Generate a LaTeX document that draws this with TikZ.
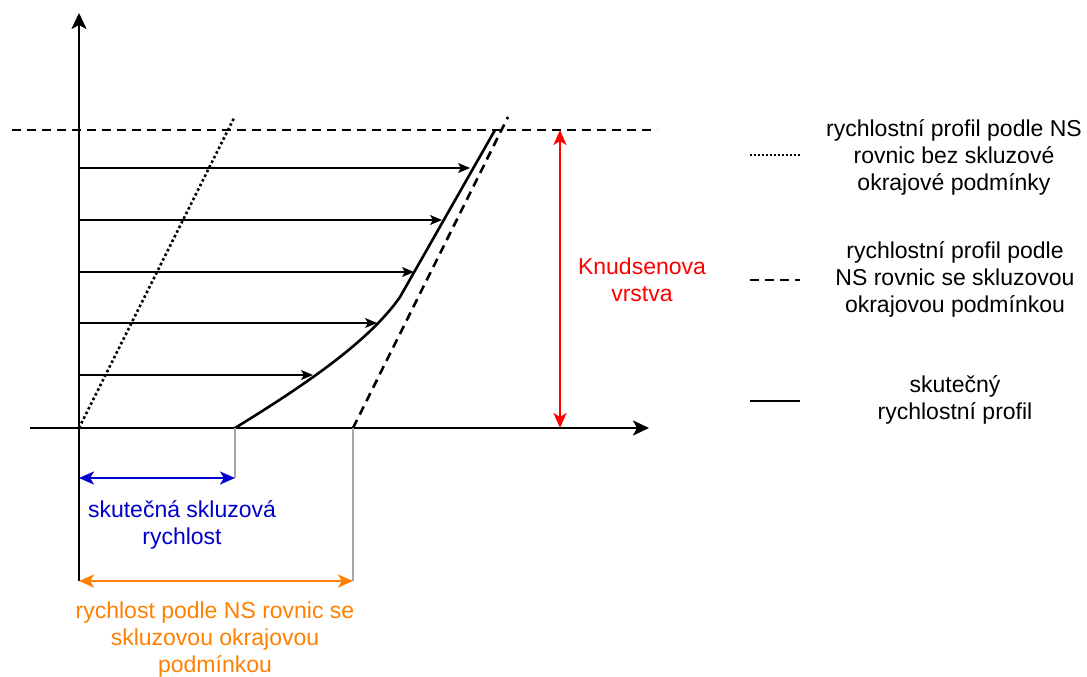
\documentclass[tikz,border=0pt]{standalone}
\usepackage{fontspec}
\setmainfont{Liberation Sans}
\usetikzlibrary{arrows.meta}
\definecolor{slipblue}{RGB}{0,0,204}
\definecolor{nsorange}{RGB}{255,128,0}
\definecolor{knred}{RGB}{255,0,0}
\tikzset{
  axis/.style={line width=2.6pt,-{Stealth[length=16pt,width=15pt,inset=4pt]}},
  profilearrow/.style={line width=1.2pt,-{Stealth[length=12pt,width=10pt,inset=3pt]}},
  dimarrow/.style={line width=2.6pt,{Stealth[length=15pt,width=13pt,inset=4pt]}-{Stealth[length=15pt,width=13pt,inset=4pt]}},
  helper/.style={line width=1.2pt,gray!70},
  nsdash/.style={line width=2.6pt,dash pattern=on 9pt off 6pt},
  nodot/.style={line width=2.6pt,dash pattern=on 2.6pt off 2.6pt},
  lbl/.style={font=\fontsize{23}{27}\selectfont,align=center,inner sep=0pt},
}
\begin{document}
\begin{tikzpicture}[x=1pt,y=-1pt]
\useasboundingbox (0,0) rectangle (1087,677);

% reference points
\coordinate (o) at (79,428);
\coordinate (ytop) at (79,13);
\coordinate (ybot) at (79,581);
\coordinate (xl) at (30,428);
\coordinate (xr) at (649,428);
\coordinate (hl) at (12,130);
\coordinate (hr) at (657,130);
\coordinate (dottop) at (234,118);
\coordinate (slip) at (235,428);
\coordinate (nsfoot) at (353,428);
\coordinate (nstop) at (508,117);
\coordinate (slipdim) at (235,478);
\coordinate (nsdim) at (353,581);
\coordinate (kntop) at (560,130);
\coordinate (knbot) at (560,428);
\coordinate (bend) at (400,297);
\coordinate (realtop) at (495,130);

% axes
\draw[axis] (ybot) -- (ytop);
\draw[axis] (xl) -- (xr);

% edge of the Knudsen layer
\draw[nsdash] (hl) -- (hr);

% no-slip profile
\draw[nodot] (o) -- (dottop);

% slip-boundary profile
\draw[nsdash] (nsfoot) -- (nstop);

% actual profile
\draw[line width=2.6pt,line join=round] (slip) .. controls (300,388) and (368,343) .. (bend) -- (realtop);

% velocity arrows
\foreach \y/\x/\n in {168/470/a1,220/442/a2,272/414/a3,323/377/a4,375/313/a5}{
  \coordinate (\n s) at (79,\y);
  \coordinate (\n e) at (\x,\y);
  \draw[profilearrow] (\n s) -- (\n e);
}

% helper verticals
\draw[helper] (slip) -- (slipdim);
\draw[helper] (nsfoot) -- (nsdim);

% dimension arrows
\coordinate (bl) at (79,478);
\draw[dimarrow,slipblue] (bl) -- (slipdim);
\draw[dimarrow,nsorange] (ybot) -- (nsdim);
\draw[dimarrow,knred] (kntop) -- (knbot);

% labels
\node[lbl,text=slipblue] (tslip) at (182,525) {skutečná skluzová\\rychlost};
\node[lbl,text=nsorange] (tns) at (215,640) {rychlost podle NS rovnic se\\skluzovou okrajovou\\podmínkou};
\node[lbl,text=knred] (tkn) at (642,280) {Knudsenova\\vrstva};

% legend
\coordinate (l1a) at (750,155); \coordinate (l1b) at (800,155);
\coordinate (l2a) at (750,280); \coordinate (l2b) at (800,280);
\coordinate (l3a) at (750,401); \coordinate (l3b) at (800,401);
\draw[line width=2pt,dash pattern=on 2pt off 2pt] (l1a) -- (l1b);
\draw[line width=2.2pt,dash pattern=on 9pt off 6pt] (l2a) -- (l2b);
\draw[line width=2.6pt] (l3a) -- (l3b);
\node[lbl] (t1) at (954,157) {rychlostní profil podle NS\\rovnic bez skluzové\\okrajové podmínky};
\node[lbl] (t2) at (955,279) {rychlostní profil podle\\NS rovnic se skluzovou\\okrajovou podmínkou};
\node[lbl] (t3) at (955,400) {skutečný\\rychlostní profil};
\end{tikzpicture}
\end{document}
